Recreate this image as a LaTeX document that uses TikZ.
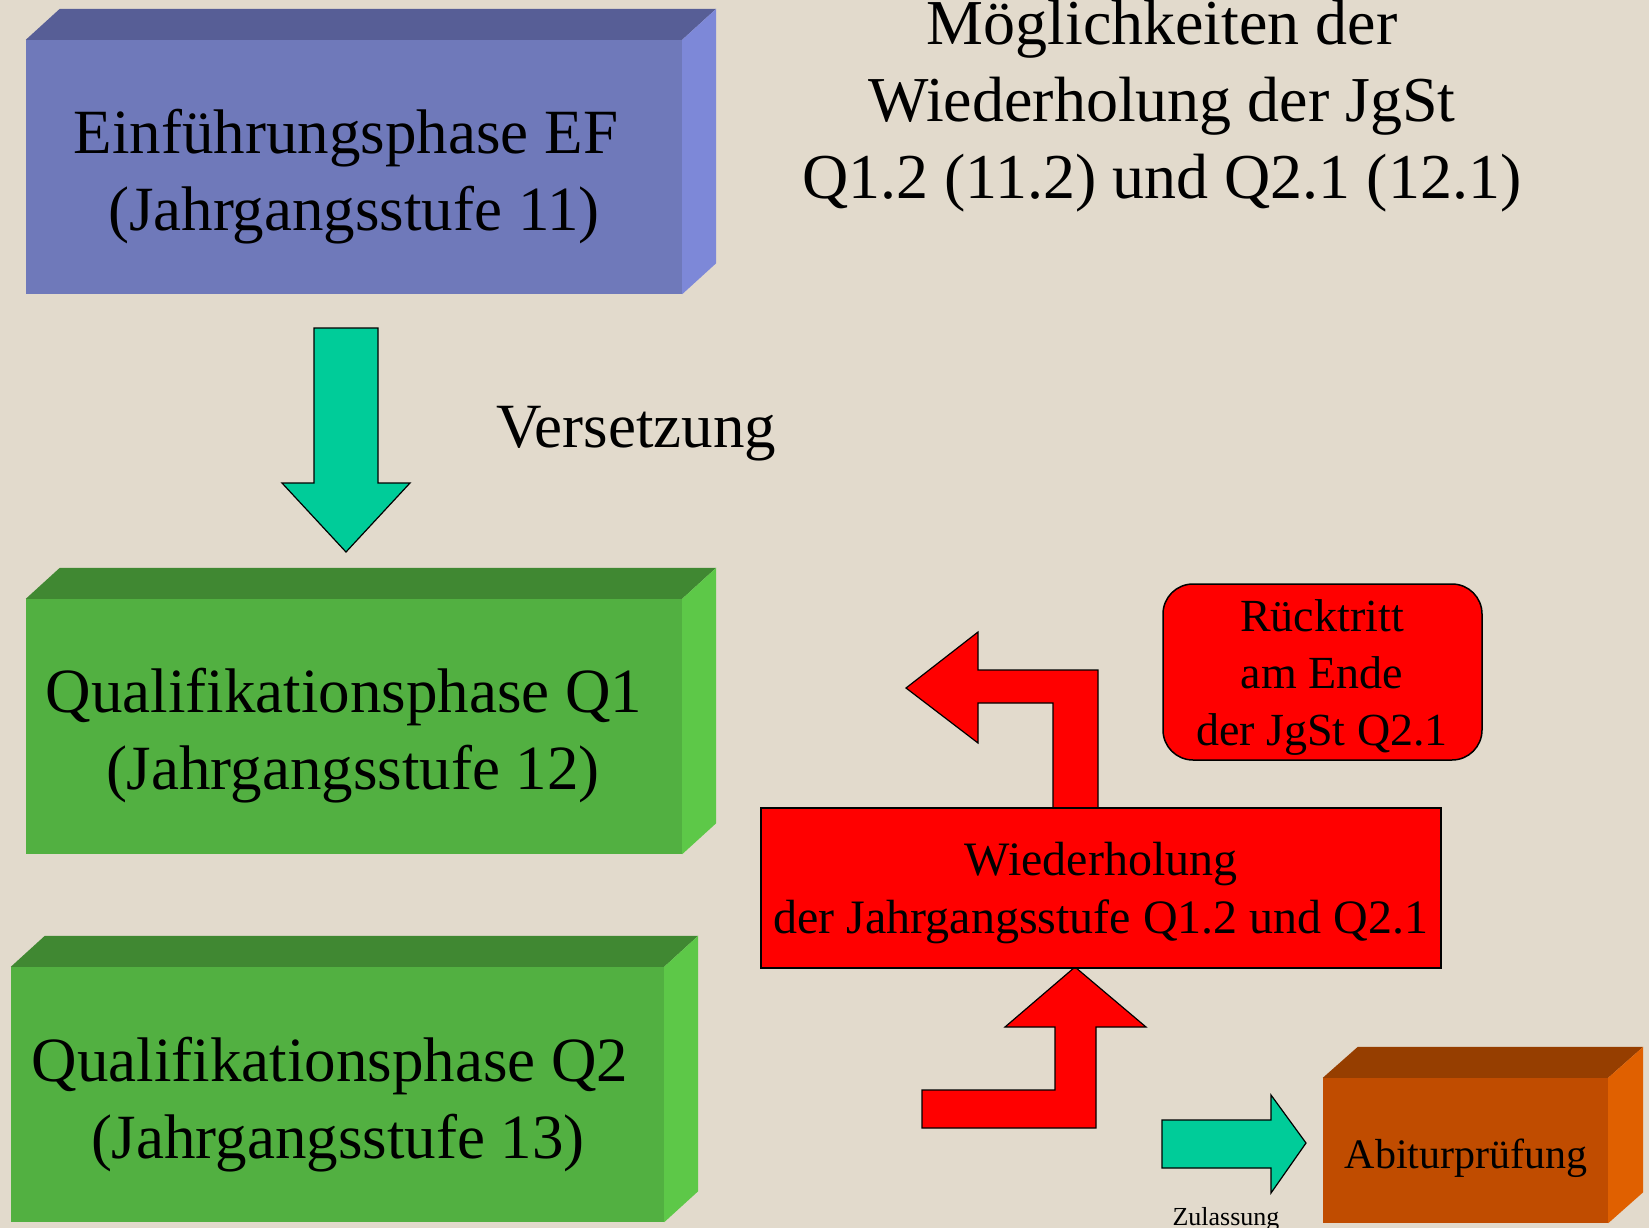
\documentclass[tikz,border=0pt]{standalone}
\usepackage{fontspec}
\setmainfont{Liberation Serif}

\definecolor{paper}{RGB}{226,218,204}
\definecolor{efFront}{RGB}{111,121,186}
\definecolor{efTop}{RGB}{87,94,150}
\definecolor{efSide}{RGB}{125,136,216}
\definecolor{qFront}{RGB}{82,176,65}
\definecolor{qTop}{RGB}{64,136,50}
\definecolor{qSide}{RGB}{93,200,72}
\definecolor{abiFront}{RGB}{192,76,0}
\definecolor{abiTop}{RGB}{150,62,0}
\definecolor{abiSide}{RGB}{224,96,0}
\definecolor{turq}{RGB}{0,204,153}

\tikzset{
  slab/.style={rectangle, inner sep=0pt},
  bigtext/.style={align=center, font=\fontsize{63}{77}\selectfont},
  redbox/.style={draw=black, line width=1.5pt, fill=red, inner sep=0pt},
  blockarrow/.style={draw=black, line width=1.2pt, line join=miter}
}

\begin{document}
\begin{tikzpicture}[x=1pt, y=-1pt]
    % Paper background and page size
    \fill[paper] (0,0) rectangle (1649,1228);
    \useasboundingbox (0,0) rectangle (1649,1228);

    % Front faces of the three slabs on the left and the exam slab
    \node[slab, fill=efFront, minimum width=656, minimum height=254] (ef) at (354,167) {};
    \node[slab, fill=qFront, minimum width=656, minimum height=255] (qone) at (354,726.5) {};
    \node[slab, fill=qFront, minimum width=653, minimum height=255] (qtwo) at (337.5,1094.5) {};
    \node[slab, fill=abiFront, minimum width=285, minimum height=145] (abi) at (1465.5,1150.5) {};

    % Top and side faces give the depth
    \foreach \slabname/\topcol/\sidecol/\dx/\dy in {ef/efTop/efSide/34/31, qone/qTop/qSide/34/31,
                                          qtwo/qTop/qSide/34/31, abi/abiTop/abiSide/35/31} {
        \fill[\topcol] (\slabname.north west) -- ++(\dx,-\dy) -- ([shift={(\dx,-\dy)}]\slabname.north east)
            -- (\slabname.north east) -- cycle;
        \fill[\sidecol] (\slabname.north east) -- ++(\dx,-\dy) -- ([shift={(\dx,-\dy)}]\slabname.south east)
            -- (\slabname.south east) -- cycle;
    }

    % Labels of the slabs (base = baseline of the last line)
    \node[bigtext, anchor=base] (eftext) at (354,230) {Einführungsphase EF\hspace*{16pt}\\(Jahrgangsstufe 11)};
    \node[bigtext, anchor=base] (qonetext) at (344,789) {Qualifikationsphase Q1\\\hspace*{18pt}(Jahrgangsstufe 12)};
    \node[bigtext, anchor=base] (qtwotext) at (330,1158) {Qualifikationsphase Q2\\\hspace*{16pt}(Jahrgangsstufe 13)};
    \node[anchor=base, font=\fontsize{42}{50}\selectfont] (abitext) at (1466,1168) {Abiturprüfung};

    % Heading
    \node[anchor=base, align=center, font=\fontsize{64}{77}\selectfont] (title) at (1162,198)
        {Möglichkeiten der\\Wiederholung der JgSt\\Q1.2 (11.2) und Q2.1 (12.1)};

    % Arrow down with its label
    \draw[blockarrow, fill=turq] (314,328) -- (378,328) -- (378,483) -- (410,483) -- (346,552)
        -- (282,483) -- (314,483) -- cycle;
    \node[anchor=base, font=\fontsize{63}{72}\selectfont] (versetzung) at (636,447) {Versetzung};

    % Red arrows round the repetition box
    \draw[blockarrow, fill=red] (1053,808) -- (1053,703) -- (978,703) -- (978,743) -- (906,688)
        -- (978,632) -- (978,670) -- (1098,670) -- (1098,808) -- cycle;
    \draw[blockarrow, fill=red] (922,1090) -- (1055,1090) -- (1055,1027) -- (1005,1027) -- (1075,967)
        -- (1146,1027) -- (1096,1027) -- (1096,1128) -- (922,1128) -- cycle;

    % Red boxes
    \node[redbox, minimum width=680, minimum height=160] (wdh) at (1101,888) {};
    \node[anchor=base, align=center, font=\fontsize{48}{58}\selectfont] (wdhtext) at (1101,933)
        {Wiederholung\\der Jahrgangsstufe Q1.2 und Q2.1};
    \node[redbox, rounded corners=30pt, minimum width=319, minimum height=176] (ruecktritt) at (1322.5,672) {};
    \node[anchor=base, align=center, font=\fontsize{46}{57}\selectfont] (ruecktext) at (1322,745)
        {Rücktritt\\am Ende\\der JgSt Q2.1};

    % Admission arrow to the exam
    \draw[blockarrow, fill=turq] (1162,1120) -- (1271,1120) -- (1271,1095) -- (1306,1143)
        -- (1271,1193) -- (1271,1168) -- (1162,1168) -- cycle;
    \node[anchor=base, font=\fontsize{26}{30}\selectfont] (zulassung) at (1226,1225) {Zulassung};
\end{tikzpicture}
\end{document}
